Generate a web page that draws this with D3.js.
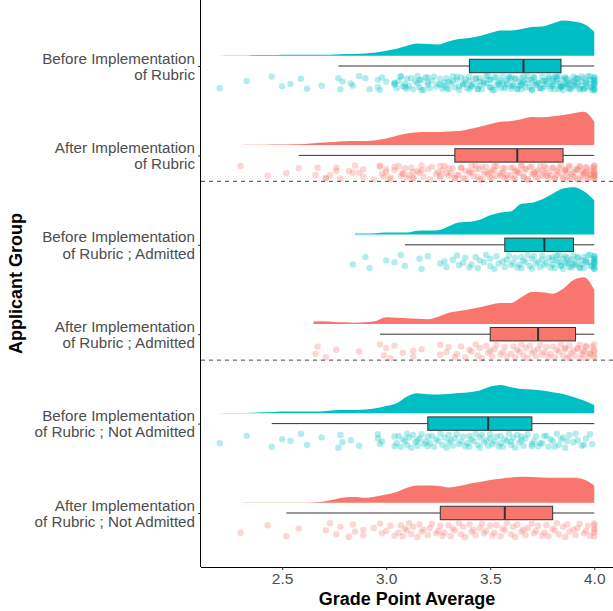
<!DOCTYPE html>
<html>
<head>
<meta charset="utf-8">
<script src="https://cdn.jsdelivr.net/npm/d3@7"></script>
<style>
  body { margin: 0; background: #fff; }
  text { font-family: "Liberation Sans", Arial, Helvetica, sans-serif; }
</style>
</head>
<body>
<div id="chart"></div>
<script>
// categories, top to bottom
var groups = [
    "Before Implementation\nof Rubric",
    "After Implementation\nof Rubric",
    "Before Implementation\nof Rubric ; Admitted",
    "After Implementation\nof Rubric ; Admitted",
    "Before Implementation\nof Rubric ; Not Admitted",
    "After Implementation\nof Rubric ; Not Admitted"
]
var groupColors = ["#00BFC4", "#F8766D", "#00BFC4", "#F8766D", "#00BFC4", "#F8766D"]

var xTicks = [2.5, 3.0, 3.5, 4.0]

var gpaGrid = [2.20, 2.25, 2.30, 2.35, 2.40, 2.45, 2.50, 2.55, 2.60, 2.65, 2.70, 2.75, 2.80, 2.85, 2.90, 2.95,
    3.00, 3.05, 3.10, 3.15, 3.20, 3.25, 3.30, 3.35, 3.40, 3.45, 3.50, 3.55, 3.60, 3.65, 3.70, 3.75, 3.80, 3.85, 3.90, 3.95, 4.00]

var densBefore = [0, 0.01, 0.01, 0.02, 0.03, 0.03, 0.04, 0.04, 0.04, 0.04, 0.04, 0.05, 0.07, 0.07, 0.09, 0.13,
    0.2, 0.28, 0.4, 0.49, 0.47, 0.45, 0.57, 0.67, 0.71, 0.79, 0.91, 1.01, 1.01, 1.07, 1.15, 1.17, 1.29, 1.41, 1.37, 1.27, 0.96]
var densAfter = [null, null, 0, 0.01, 0.01, 0.02, 0.02, 0.03, 0.04, 0.07, 0.1, 0.12, 0.15, 0.16, 0.16, 0.19,
    0.26, 0.37, 0.46, 0.51, 0.52, 0.52, 0.54, 0.56, 0.64, 0.73, 0.84, 0.93, 0.96, 1.03, 1.12, 1.11, 1.15, 1.2, 1.27, 1.33, 0.93]
var densBeforeAdm = [null, null, null, null, null, null, null, null, null, null, null, null, null, 0.04, 0.04, 0.05,
    0.08, 0.08, 0.08, 0.15, 0.16, 0.17, 0.33, 0.48, 0.51, 0.59, 0.77, 0.88, 0.93, 1.23, 1.27, 1.41, 1.63, 1.84, 1.89, 1.73, 1.37]
var densAfterAdm = [null, null, null, null, null, null, null, null, null, 0.1, 0.11, 0.08, 0.07, 0.05, 0.07, 0.12,
    0.27, 0.25, 0.23, 0.21, 0.19, 0.29, 0.45, 0.52, 0.59, 0.67, 0.77, 0.84, 0.84, 1.07, 1.28, 1.27, 1.21, 1.41, 1.76, 1.87, 1.37]
var densBeforeNot = [0, 0.01, 0.01, 0.02, 0.04, 0.05, 0.07, 0.07, 0.07, 0.07, 0.08, 0.12, 0.13, 0.13, 0.15, 0.2,
    0.29, 0.4, 0.67, 0.8, 0.76, 0.75, 0.77, 0.81, 0.84, 0.91, 1.07, 1.13, 1.04, 0.97, 0.95, 0.91, 0.84, 0.77, 0.65, 0.51, 0.33]
var densAfterNot = [null, null, 0, 0.01, 0.01, 0.01, 0.01, 0.01, 0.01, 0.02, 0.05, 0.13, 0.21, 0.23, 0.2, 0.25,
    0.33, 0.43, 0.6, 0.69, 0.69, 0.67, 0.61, 0.67, 0.76, 0.83, 0.91, 0.96, 1.01, 1.04, 1.03, 1.01, 1.0, 1.0, 1.0, 0.93, 0.69]

// boxplot stats per group
var whiskerLow = [2.77, 2.58, 3.09, 2.97, 2.45, 2.52]
var q1 = [3.40, 3.33, 3.57, 3.50, 3.20, 3.26]
var median = [3.66, 3.63, 3.76, 3.73, 3.49, 3.57]
var q3 = [3.84, 3.85, 3.90, 3.91, 3.70, 3.80]
var whiskerHigh = [4.0, 4.0, 4.0, 4.0, 4.0, 4.0]

// raw GPAs (rain)
var gpaBeforeAdm = [2.84, 2.90, 2.92, 3.00, 3.04, 3.07, 3.09, 3.16, 3.17, 3.20, 3.26, 3.28, 3.29, 3.32,
    3.34, 3.35, 3.37, 3.38, 3.40, 3.41, 3.43, 3.44, 3.45, 3.47, 3.48, 3.50, 3.50, 3.52, 3.53, 3.54, 3.56, 3.57,
    3.58, 3.59, 3.60, 3.61, 3.62, 3.63, 3.64, 3.65, 3.65, 3.66, 3.67, 3.68, 3.69, 3.70, 3.70, 3.71, 3.72, 3.73,
    3.74, 3.75, 3.75, 3.76, 3.77, 3.78, 3.79, 3.80, 3.80, 3.81, 3.82, 3.83, 3.83, 3.84, 3.85, 3.85, 3.86, 3.87,
    3.88, 3.88, 3.89, 3.90, 3.90, 3.91, 3.92, 3.93, 3.94, 3.95, 3.95, 3.96, 3.97, 3.98, 3.99, 4.00, 4.00, 4.00,
    4.00, 4.00, 4.00, 3.80, 3.82, 3.84, 3.86, 3.87, 3.89, 3.91, 3.92, 3.93, 3.94, 3.96, 3.97, 3.98, 4.00, 4.00,
    4.00, 4.00, 4.00]
var gpaBeforeNot = [2.20, 2.33, 2.45, 2.50, 2.54, 2.59, 2.62, 2.69, 2.77, 2.78, 2.79, 2.83, 2.87, 2.96, 2.96,
    2.97, 2.98, 3.04, 3.04, 3.05, 3.06, 3.07, 3.08, 3.09, 3.10, 3.10, 3.11, 3.12, 3.13, 3.14, 3.15, 3.15, 3.16,
    3.17, 3.18, 3.19, 3.20, 3.20, 3.21, 3.22, 3.23, 3.24, 3.25, 3.26, 3.27, 3.28, 3.29, 3.30, 3.30, 3.31, 3.32,
    3.33, 3.34, 3.35, 3.36, 3.37, 3.38, 3.39, 3.40, 3.40, 3.41, 3.42, 3.43, 3.44, 3.45, 3.45, 3.46, 3.47, 3.48,
    3.49, 3.50, 3.50, 3.51, 3.52, 3.53, 3.54, 3.55, 3.55, 3.56, 3.57, 3.58, 3.59, 3.60, 3.61, 3.62, 3.63, 3.64,
    3.65, 3.66, 3.67, 3.68, 3.70, 3.71, 3.72, 3.73, 3.75, 3.76, 3.78, 3.79, 3.80, 3.82, 3.83, 3.85, 3.86, 3.88,
    3.90, 3.92, 3.94, 3.96, 3.98, 3.99, 3.60, 3.65, 3.70, 3.74, 3.77, 3.81, 3.84, 3.87, 3.91, 3.95]
var gpaAfterAdm = [2.66, 2.67, 2.71, 2.76, 2.87, 2.97, 2.99, 3.00, 3.02, 3.04, 3.08, 3.13, 3.13, 3.17, 3.26,
    3.26, 3.29, 3.30, 3.33, 3.34, 3.36, 3.38, 3.40, 3.41, 3.43, 3.44, 3.45, 3.46, 3.48, 3.49, 3.50, 3.51, 3.52,
    3.53, 3.55, 3.56, 3.57, 3.58, 3.60, 3.61, 3.62, 3.63, 3.64, 3.65, 3.66, 3.67, 3.68, 3.69, 3.70, 3.71, 3.72,
    3.73, 3.74, 3.75, 3.76, 3.77, 3.78, 3.79, 3.80, 3.81, 3.82, 3.83, 3.84, 3.85, 3.86, 3.87, 3.88, 3.89, 3.90,
    3.91, 3.92, 3.93, 3.94, 3.95, 3.96, 3.97, 3.98, 3.99, 4.00, 4.00, 4.00, 4.00, 4.00, 3.92, 3.94, 3.96, 3.98,
    3.95, 3.88, 3.86]
var gpaAfterNot = [2.30, 2.43, 2.52, 2.58, 2.71, 2.73, 2.76, 2.78, 2.82, 2.84, 2.85, 2.89, 2.89, 2.94, 2.97,
    2.98, 3.00, 3.02, 3.04, 3.06, 3.07, 3.08, 3.09, 3.10, 3.11, 3.12, 3.13, 3.15, 3.16, 3.17, 3.18, 3.20, 3.21,
    3.22, 3.24, 3.25, 3.26, 3.27, 3.28, 3.30, 3.31, 3.32, 3.33, 3.35, 3.36, 3.37, 3.38, 3.40, 3.41, 3.42, 3.43,
    3.45, 3.46, 3.47, 3.48, 3.50, 3.51, 3.52, 3.53, 3.55, 3.56, 3.57, 3.58, 3.60, 3.61, 3.62, 3.63, 3.65, 3.66,
    3.67, 3.68, 3.70, 3.71, 3.72, 3.73, 3.75, 3.76, 3.77, 3.78, 3.80, 3.81, 3.82, 3.83, 3.85, 3.86, 3.87, 3.88,
    3.90, 3.91, 3.92, 3.93, 3.95, 3.96, 3.97, 3.98, 4.00, 4.00, 4.00, 4.00, 4.00, 4.00]

// fixed vertical jitter pattern for the rain (fraction of half band)
var jitter = [0.35, -0.62, 0.81, -0.18, 0.05, -0.9, 0.56, -0.41, 0.93, -0.73, 0.22, -0.05, 0.68, -0.27, -0.84, 0.44, 0.12, -0.55, 0.75]

// dashed separators, in category steps from the first group
var separators = [1.29, 3.29]

var densities = [densBefore, densAfter, densBeforeAdm, densAfterAdm, densBeforeNot, densAfterNot]
var rain = [gpaBeforeAdm.concat(gpaBeforeNot), gpaAfterAdm.concat(gpaAfterNot),
    gpaBeforeAdm, gpaAfterAdm, gpaBeforeNot, gpaAfterNot]

var W = 613, H = 611
var plot = { left: 201, right: 613, top: 0, bottom: 567 }

var svg = d3.select("#chart").append("svg")
    .attr("width", W)
    .attr("height", H)

var x = d3.scaleLinear()
    .domain([2.11, 4.09])
    .range([plot.left, plot.right])

var y = d3.scalePoint()
    .domain(groups)
    .range([66, 513])

var step = y.step()

// density -> pixels
var dens = d3.scaleLinear().domain([0, 1]).range([0, 25])

var cloudOffset = 0.115 * step
var boxHalf = 0.075 * step

// clouds
groups.forEach(function (g, i) {
    var base = y(g) - cloudOffset
    var pts = gpaGrid.map(function (v, k) { return [v, densities[i][k]] })
    var area = d3.area()
        .defined(function (d) { return d[1] != null })
        .x(function (d) { return x(d[0]) })
        .y0(base)
        .y1(function (d) { return base - dens(d[1]) })
        .curve(d3.curveMonotoneX)
    svg.append("path")
        .datum(pts)
        .attr("d", area)
        .attr("fill", groupColors[i])
})

// boxplots
groups.forEach(function (g, i) {
    var cy = y(g)
    var bx = svg.append("g")
    bx.append("line")
        .attr("x1", x(whiskerLow[i])).attr("x2", x(q1[i]))
        .attr("y1", cy).attr("y2", cy)
        .attr("stroke", "#333").attr("stroke-width", 1)
    bx.append("line")
        .attr("x1", x(q3[i])).attr("x2", x(whiskerHigh[i]))
        .attr("y1", cy).attr("y2", cy)
        .attr("stroke", "#333").attr("stroke-width", 1)
    bx.append("rect")
        .attr("x", x(q1[i]))
        .attr("y", cy - boxHalf)
        .attr("width", x(q3[i]) - x(q1[i]))
        .attr("height", boxHalf * 2)
        .attr("fill", groupColors[i])
        .attr("stroke", "#333")
        .attr("stroke-width", 1)
    bx.append("line")
        .attr("x1", x(median[i])).attr("x2", x(median[i]))
        .attr("y1", cy - boxHalf).attr("y2", cy + boxHalf)
        .attr("stroke", "#333").attr("stroke-width", 2)
})

// rain
groups.forEach(function (g, i) {
    var cy = y(g) + 0.19 * step
    svg.append("g")
        .selectAll("circle")
        .data(rain[i])
        .enter()
        .append("circle")
        .attr("cx", function (d) { return x(d) })
        .attr("cy", function (d, k) { return cy + 0.085 * step * jitter[k % jitter.length] })
        .attr("r", 3.2)
        .attr("fill", groupColors[i])
        .attr("fill-opacity", 0.3)
})

// dashed separators
svg.selectAll(".sep")
    .data(separators)
    .enter()
    .append("line")
    .attr("x1", plot.left).attr("x2", plot.right)
    .attr("y1", function (d) { return y(groups[0]) + d * step })
    .attr("y2", function (d) { return y(groups[0]) + d * step })
    .attr("stroke", "#444")
    .attr("stroke-width", 1)
    .attr("stroke-dasharray", "4,4")

// x axis
var xAxis = svg.append("g")
    .attr("transform", "translate(0," + plot.bottom + ")")
    .call(d3.axisBottom(x).tickValues(xTicks).tickFormat(d3.format(".1f")).tickSize(3).tickPadding(3))
xAxis.select(".domain").attr("d", "M" + plot.left + ",0.5H" + plot.right).attr("stroke", "#000")
xAxis.selectAll(".tick line").attr("stroke", "#333")
xAxis.selectAll(".tick text").attr("fill", "#4D4D4D").style("font-size", "15.5px")

// y axis
var yAxis = svg.append("g")
    .attr("transform", "translate(" + plot.left + ",0)")
    .call(d3.axisLeft(y).tickSize(3).tickFormat(""))
yAxis.select(".domain").attr("d", "M-0.5," + plot.top + "V" + plot.bottom).attr("stroke", "#000")
yAxis.selectAll(".tick line").attr("stroke", "#333")

groups.forEach(function (g) {
    var lines = g.split("\n")
    var t = svg.append("text")
        .attr("x", plot.left - 6)
        .attr("y", y(g))
        .attr("text-anchor", "end")
        .attr("fill", "#4D4D4D")
        .style("font-size", "15.2px")
    lines.forEach(function (l, k) {
        t.append("tspan")
            .attr("x", plot.left - 6)
            .attr("dy", k === 0 ? "-2.5" : "16.2")
            .text(l)
    })
})

// titles
svg.append("text")
    .attr("x", (plot.left + plot.right) / 2)
    .attr("y", 605)
    .attr("text-anchor", "middle")
    .style("font-size", "18px")
    .style("font-weight", "bold")
    .text("Grade Point Average")

svg.append("text")
    .attr("transform", "translate(22," + (plot.bottom / 2) + ") rotate(-90)")
    .attr("text-anchor", "middle")
    .style("font-size", "18px")
    .style("font-weight", "bold")
    .text("Applicant Group")
</script>
</body>
</html>
